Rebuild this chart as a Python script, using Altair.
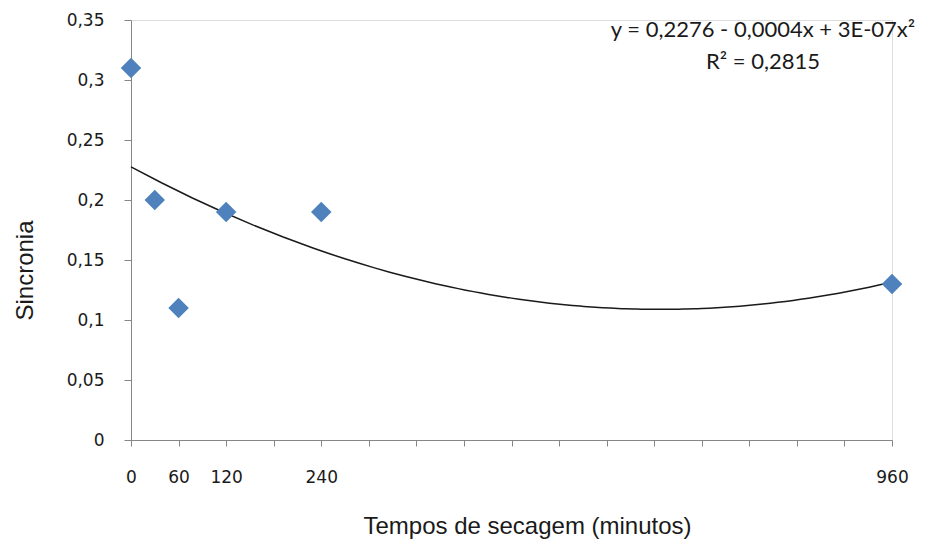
import altair as alt
import pandas as pd

# Data
tempos = [0, 30, 60, 120, 240, 960]
sincronia = [0.31, 0.20, 0.11, 0.19, 0.19, 0.13]
x_label_values = [0, 60, 120, 240, 960]
y_tick_values = [0, 0.05, 0.10, 0.15, 0.20, 0.25, 0.30, 0.35]
x_tick_values = list(range(0, 961, 60))
equation_lines = ["y = 0,2276 - 0,0004x + 3E-07x²", "R² = 0,2815"]

df = pd.DataFrame({"x": tempos, "y": sincronia})

axis_gray = "#868686"
label_list = "[" + ",".join(str(v) for v in x_label_values) + "]"

x_scale = alt.Scale(domain=[0, 960], nice=False, zero=True)
y_scale = alt.Scale(domain=[0, 0.35], nice=False)

x_axis = alt.Axis(
    title="Tempos de secagem (minutos)",
    values=x_tick_values,
    labelExpr=f"indexof({label_list}, datum.value) >= 0 ? datum.label : ''",
    grid=False,
    domainColor=axis_gray,
    tickColor=axis_gray,
    tickSize=6,
    labelPadding=23,
    labelFlush=False,
    labelFont="DejaVu Sans",
    labelFontSize=17,
    labelColor="#1a1a1a",
    titleFont="Liberation Sans",
    titleFontSize=24,
    titleFontWeight="normal",
    titleColor="#1a1a1a",
    titleX=396,
    titleY=86,
    titleBaseline="middle",
    labelOverlap=False,
)

y_axis = alt.Axis(
    title="Sincronia",
    values=y_tick_values,
    labelExpr="replace(format(datum.value, ''), '.', ',')",
    grid=False,
    domainColor=axis_gray,
    tickColor=axis_gray,
    tickSize=7,
    labelPadding=20,
    labelFlush=False,
    labelFont="DejaVu Sans",
    labelFontSize=17,
    labelColor="#1a1a1a",
    titleFont="Liberation Sans",
    titleFontSize=24,
    titleFontWeight="normal",
    titleColor="#1a1a1a",
    titleAngle=-90,
    titleX=-106,
    titleY=250,
    titleBaseline="middle",
    labelOverlap=False,
)

base = alt.Chart(df)

points = base.mark_point(
    shape="diamond", filled=True, size=420, color="#4F81BD", opacity=1
).encode(
    x=alt.X("x:Q", scale=x_scale, axis=x_axis),
    y=alt.Y("y:Q", scale=y_scale, axis=y_axis),
)

trend = base.transform_regression(
    "x", "y", method="poly", order=2, extent=[0, 960]
).mark_line(color="#1a1a1a", strokeWidth=1.5).encode(
    x=alt.X("x:Q", scale=x_scale),
    y=alt.Y("y:Q", scale=y_scale),
)

eq_df = pd.DataFrame({"t": ["\n".join(equation_lines)]})
eq = alt.Chart(eq_df).mark_text(
    font="Lato", fontSize=22, color="#1a1a1a", align="center", baseline="middle",
    lineBreak="\n", lineHeight=32,
).encode(
    text="t:N",
    x=alt.value(632),
    y=alt.value(10),
)

chart = alt.layer(trend, points, eq).properties(
    width=761,
    height=420,
    autosize=alt.AutoSizeParams(type="none"),
    padding={"left": 131, "top": 20, "right": 43, "bottom": 109},
).configure_view(stroke=None).configure(background="white")

chart.save("out.html", embed_options={"renderer": "svg", "actions": False})
